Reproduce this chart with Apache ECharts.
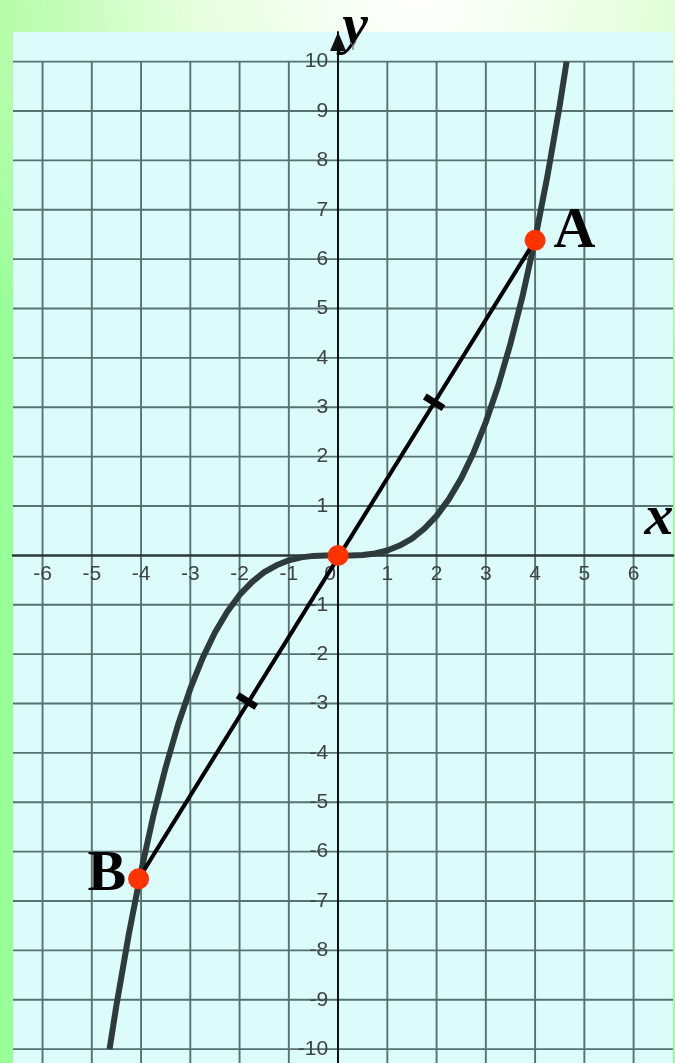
<!DOCTYPE html>
<html><head><meta charset="utf-8">
<script src="https://cdn.jsdelivr.net/npm/echarts@6/dist/echarts.min.js"></script>
<style>
html,body{margin:0;padding:0;width:675px;height:1063px;overflow:hidden;}
body{background: radial-gradient(ellipse 80% 45% at 62% 0%, #ffffff 0%, #e8ffe0 40%, #b8fcac 75%, #99ff99 100%);}
#c{width:675px;height:1063px;}
</style></head><body><div id="c"></div>
<script>
// tick labels
const xTicks = [-6, -5, -4, -3, -2, -1, 0, 1, 2, 3, 4, 5, 6];
const yTicks = [-10, -9, -8, -7, -6, -5, -4, -3, -2, -1, 0, 1, 2, 3, 4, 5, 6, 7, 8, 9, 10];
// the cubic curve
const curveX = [-4.64, -4.5, -4.25, -4, -3.75, -3.5, -3.25, -3, -2.75, -2.5, -2.25, -2, -1.75, -1.5, -1.25, -1, -0.75, -0.5, -0.25, 0,
                0.25, 0.5, 0.75, 1, 1.25, 1.5, 1.75, 2, 2.25, 2.5, 2.75, 3, 3.25, 3.5, 3.75, 4, 4.25, 4.5, 4.64];
const curveY = [-10, -9.11, -7.68, -6.4, -5.27, -4.29, -3.43, -2.7, -2.08, -1.56, -1.14, -0.8, -0.54, -0.34, -0.2, -0.1, -0.04, -0.01, 0, 0,
                0, 0.01, 0.04, 0.1, 0.2, 0.34, 0.54, 0.8, 1.14, 1.56, 2.08, 2.7, 3.43, 4.29, 5.27, 6.4, 7.68, 9.11, 10];
// marked points B, O, A
const pointNames = ['B', 'O', 'A'];
const pointX = [-4.05, 0, 4.0];
const pointY = [-6.55, 0, 6.38];
// equal-segment hatch marks on AB
const hatchX = [-1.85, 1.95];
const hatchY = [-2.95, 3.1];

const X_MIN = -6.6, X_MAX = 6.8, Y_MIN = -10.28, Y_MAX = 10.6;
const GRID = {left: 13, right: 2, top: 32, bottom: 0};
const W = 675, H = 1063;
const LABEL_FONT = "'Liberation Sans', Arial, sans-serif";
const SERIF = "'Liberation Serif', 'DejaVu Serif', serif";
const LABEL_COLOR = '#3e4444';
const LABEL_SIZE = 21;

const chart = echarts.init(document.getElementById('c'), null, {renderer: 'canvas'});

const gridData = xTicks.filter(v => v !== 0).map(v => [0, v])
  .concat(yTicks.filter(v => v !== 0).map(v => [1, v]));

const option = {
  backgroundColor: 'transparent',
  animation: false,
  grid: Object.assign({show: true, backgroundColor: '#dcfbfb', borderWidth: 0, containLabel: false, outerBoundsMode: 'none'}, GRID),
  xAxis: {
    type: 'value', min: X_MIN, max: X_MAX, z: 3, position: 'bottom', offset: 0,
    axisLine: {onZero: false, lineStyle: {color: '#2b3838', width: 2.5}},
    axisTick: {show: false},
    splitLine: {show: false},
    axisLabel: {
      customValues: xTicks, margin: 8, color: LABEL_COLOR, fontSize: LABEL_SIZE, fontFamily: LABEL_FONT,
      formatter: v => v === 0 ? '{z|0}' : String(v),
      rich: {z: {fontSize: LABEL_SIZE, fontFamily: LABEL_FONT, color: LABEL_COLOR, padding: [0, 16, 0, 0]}}
    }
  },
  yAxis: {
    type: 'value', min: Y_MIN, max: Y_MAX, z: 3, position: 'left', offset: 0,
    axisLine: {onZero: false, symbol: ['none', 'triangle'], symbolSize: [16, 19], symbolOffset: [0, -9.5],
      lineStyle: {color: '#111', width: 2}},
    axisTick: {show: false},
    splitLine: {show: false},
    axisLabel: {customValues: yTicks.filter(v => v !== 0), margin: 10, color: LABEL_COLOR, fontSize: LABEL_SIZE, fontFamily: LABEL_FONT}
  },
  series: [
    {
      type: 'custom', z: 1, clip: false, silent: true,
      data: gridData,
      renderItem: function (params, api) {
        const kind = api.value(0), v = api.value(1);
        let p1, p2;
        if (kind === 0) { p1 = api.coord([v, yTicks[yTicks.length - 1]]); p2 = api.coord([v, Y_MIN]); }
        else { p1 = api.coord([X_MIN, v]); p2 = api.coord([X_MAX, v]); }
        return {type: 'line', shape: {x1: p1[0], y1: p1[1], x2: p2[0], y2: p2[1]},
          style: {stroke: '#567272', lineWidth: 1.9}};
      }
    },
    {
      type: 'line', z: 4, showSymbol: false, symbol: 'none', smooth: false,
      data: curveX.map((x, i) => [x, curveY[i]]),
      lineStyle: {color: '#2e3b3b', width: 6}
    },
    {
      type: 'line', z: 5, symbol: 'none',
      data: [[pointX[0], pointY[0]], [pointX[2], pointY[2]]],
      lineStyle: {color: '#000', width: 4}
    },
    {
      type: 'custom', z: 6, clip: false,
      data: hatchX.map((x, i) => [x, hatchY[i]]),
      renderItem: function (params, api) {
        const pa = api.coord([pointX[2], pointY[2]]), pb = api.coord([pointX[0], pointY[0]]);
        let dx = pa[0] - pb[0], dy = pa[1] - pb[1];
        const L = Math.hypot(dx, dy); dx /= L; dy /= L;
        const c = api.coord([api.value(0), api.value(1)]);
        const h = 11;
        return {type: 'line', shape: {x1: c[0] - dy * h, y1: c[1] + dx * h, x2: c[0] + dy * h, y2: c[1] - dx * h},
          style: {stroke: '#000', lineWidth: 7}};
      }
    },
    {
      type: 'scatter', z: 7, symbolSize: 21,
      itemStyle: {color: '#ff3300', opacity: 1},
      data: pointNames.map((n, i) => ({
        name: n, value: [pointX[i], pointY[i]],
        label: n === 'O' ? {show: false} : {
          show: true, formatter: '{b}', position: n === 'A' ? 'right' : 'left',
          distance: n === 'A' ? 8 : 2, offset: n === 'A' ? [0, -8] : [0, -4],
          color: '#000', fontSize: 58, fontWeight: 'bold', fontFamily: SERIF
        }
      }))
    }
  ],
  graphic: [
    {type: 'text', z: 100, x: 355, y: 28, style: {text: 'y', font: "italic bold 58px " + SERIF, fill: '#000', align: 'center', verticalAlign: 'middle'}},
    {type: 'text', z: 100, x: 353, y: 47, style: {text: 'Y', font: "12px 'Liberation Sans', sans-serif", fill: '#666', align: 'center', verticalAlign: 'middle'}},
    {type: 'text', z: 100, x: 659, y: 519, style: {text: 'x', font: "italic bold 58px " + SERIF, fill: '#000', align: 'center', verticalAlign: 'middle'}}
  ]
};
chart.setOption(option);
// move both axes onto the origin, using the library's own coordinate conversion
const o = chart.convertToPixel({gridIndex: 0}, [0, 0]);
chart.setOption({
  xAxis: {offset: -(H - GRID.bottom - o[1])},
  yAxis: {offset: -(o[0] - GRID.left)}
});
</script></body></html>
